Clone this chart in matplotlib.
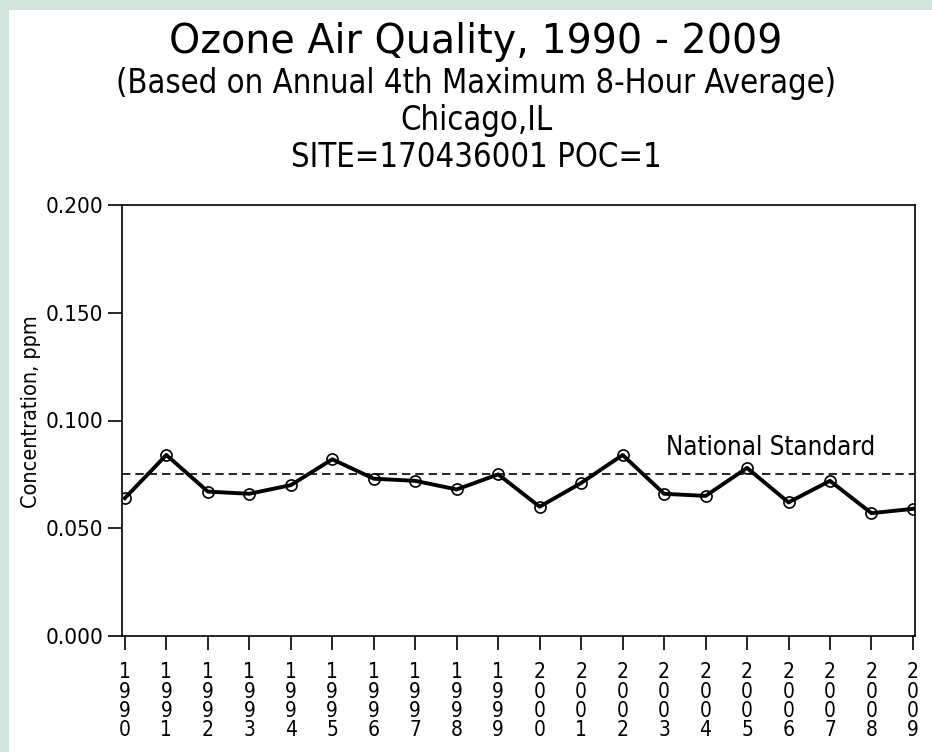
import numpy as np
import matplotlib.pyplot as plt
from matplotlib.patches import Rectangle

plt.rcParams['font.family'] = ['DejaVu Sans']

years = list(range(1990, 2010))
ozone = [0.064, 0.084, 0.067, 0.066, 0.070, 0.082, 0.073, 0.072, 0.068, 0.075,
         0.060, 0.071, 0.084, 0.066, 0.065, 0.078, 0.062, 0.072, 0.057, 0.059]
standard = 0.075
yticks = [0.0, 0.05, 0.10, 0.15, 0.20]

fig = plt.figure(figsize=(9.32, 7.52), dpi=100)
fig.patch.set_facecolor('#d0e4dc')
fig.patches.append(Rectangle((9 / 932, 0), 1, 1 - 10 / 752, transform=fig.transFigure,
                             facecolor='white', edgecolor='none', zorder=-1))

ax = fig.add_axes([122 / 932, 1 - 636 / 752, (915 - 122) / 932, (636 - 205) / 752])
ax.set_facecolor('white')

ax.axhline(standard, color='black', lw=1.2, ls=(0, (5, 3)), zorder=2)
ax.plot(years, ozone, color='black', lw=2.8, marker='o', ms=8,
        mfc='none', mec='black', mew=1.2, zorder=3)
ax.text(2005.58, 0.084, 'National Standard', ha='center', va='baseline',
        fontsize=18.5, fontstretch='condensed')

ax.set_xlim(1989.93, 2009.05)
ax.set_ylim(0, 0.2)
ax.set_yticks(yticks)
ax.set_yticklabels([f'{v:.3f}' for v in yticks], fontstretch='condensed')
ax.set_xticks(years)
ax.set_xticklabels(['\n'.join(str(y)) for y in years], linespacing=0.95, fontstretch='condensed')
ax.tick_params(axis='both', direction='out', length=10, width=1.2)
ax.tick_params(axis='x', pad=9, labelsize=15)
ax.tick_params(axis='y', labelsize=16)
for s in ax.spines.values():
    s.set_linewidth(1.2)

ax.set_ylabel('Concentration, ppm', fontsize=15.5, fontstretch='condensed')
ax.yaxis.set_label_coords(-0.102, 0.52)

fig.text(476 / 932, 1 - 53 / 752, 'Ozone Air Quality, 1990 - 2009', ha='center', va='baseline', fontsize=28.5)
fig.text(476 / 932, 1 - 93 / 752, '(Based on Annual 4th Maximum 8-Hour Average)', ha='center', va='baseline',
         fontsize=23.5, fontstretch='condensed')
fig.text(476 / 932, 1 - 130 / 752, 'Chicago,IL', ha='center', va='baseline', fontsize=23.5, fontstretch='condensed')
fig.text(476 / 932, 1 - 167 / 752, 'SITE=170436001 POC=1', ha='center', va='baseline', fontsize=23.5,
         fontstretch='condensed')

fig.savefig('out.png', dpi=100, facecolor=fig.get_facecolor())
